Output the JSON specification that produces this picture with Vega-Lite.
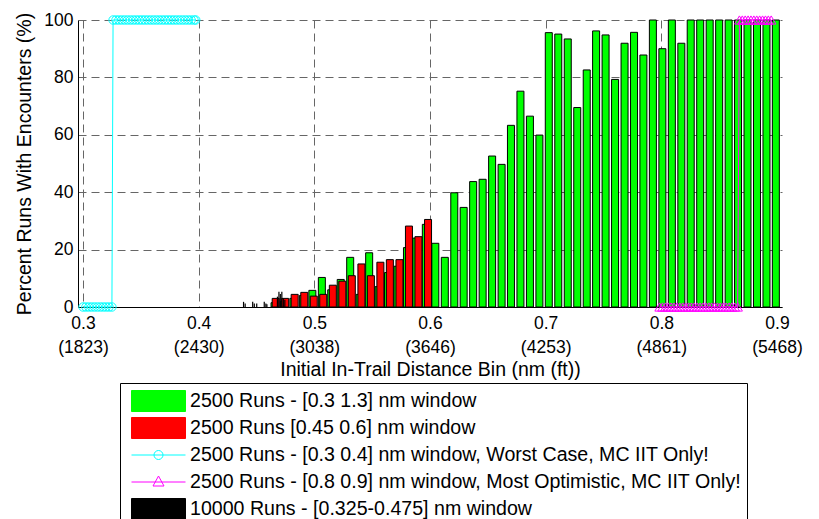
{
  "$schema": "https://vega.github.io/schema/vega-lite/v6.json",
  "width": 704,
  "height": 287,
  "autosize": {"type": "none"},
  "padding": {"left": 78, "top": 20, "right": 37, "bottom": 212},
  "background": "white",
  "config": {
    "font": "Liberation Sans",
    "view": {"stroke": null},
    "axis": {
      "labelFont": "Liberation Sans",
      "titleFont": "Liberation Sans",
      "labelColor": "black",
      "titleColor": "black",
      "labelFontSize": 17.5,
      "titleFontSize": 19.5,
      "titleFontWeight": "normal",
      "domainColor": "black",
      "domainWidth": 1,
      "ticks": false,
      "grid": true,
      "gridColor": "#666666",
      "gridDash": [8, 5],
      "gridWidth": 1,
      "gridOpacity": 1
    }
  },
  "datasets": {
    "green": [
      {"nm": 0.4656, "pct": 1.5}, {"nm": 0.4737, "pct": 2.0}, {"nm": 0.4819, "pct": 3.0},
      {"nm": 0.4901, "pct": 4.0}, {"nm": 0.4983, "pct": 5.8}, {"nm": 0.5065, "pct": 10.3},
      {"nm": 0.5146, "pct": 6.0}, {"nm": 0.5228, "pct": 9.6}, {"nm": 0.5310, "pct": 17.3},
      {"nm": 0.5392, "pct": 4.4}, {"nm": 0.5474, "pct": 18.9}, {"nm": 0.5556, "pct": 7.1},
      {"nm": 0.5637, "pct": 12.0}, {"nm": 0.5719, "pct": 14.2}, {"nm": 0.5801, "pct": 20.7},
      {"nm": 0.5882, "pct": 24.0}, {"nm": 0.5964, "pct": 28.8}, {"nm": 0.6046, "pct": 22.2},
      {"nm": 0.6128, "pct": 17.3}, {"nm": 0.6210, "pct": 39.8}, {"nm": 0.6291, "pct": 34.7},
      {"nm": 0.6373, "pct": 43.7}, {"nm": 0.6455, "pct": 44.5}, {"nm": 0.6537, "pct": 52.6},
      {"nm": 0.6619, "pct": 49.7}, {"nm": 0.6700, "pct": 63.3}, {"nm": 0.6782, "pct": 75.2},
      {"nm": 0.6864, "pct": 66.5}, {"nm": 0.6946, "pct": 59.9}, {"nm": 0.7027, "pct": 95.6},
      {"nm": 0.7109, "pct": 95.1}, {"nm": 0.7191, "pct": 93.4}, {"nm": 0.7273, "pct": 69.5},
      {"nm": 0.7355, "pct": 82.6}, {"nm": 0.7436, "pct": 96.2}, {"nm": 0.7518, "pct": 94.8},
      {"nm": 0.7600, "pct": 79.3}, {"nm": 0.7682, "pct": 91.9}, {"nm": 0.7764, "pct": 95.7},
      {"nm": 0.7845, "pct": 87.8}, {"nm": 0.7927, "pct": 100}, {"nm": 0.8009, "pct": 90.0},
      {"nm": 0.8091, "pct": 100}, {"nm": 0.8173, "pct": 91.9}, {"nm": 0.8254, "pct": 100},
      {"nm": 0.8336, "pct": 100}, {"nm": 0.8418, "pct": 100}, {"nm": 0.8500, "pct": 100},
      {"nm": 0.8582, "pct": 100}, {"nm": 0.8663, "pct": 100}, {"nm": 0.8745, "pct": 100},
      {"nm": 0.8827, "pct": 100}, {"nm": 0.8909, "pct": 100}, {"nm": 0.8990, "pct": 100}
    ],
    "red": [
      {"nm": 0.4666, "pct": 3.0}, {"nm": 0.4748, "pct": 3.0}, {"nm": 0.4830, "pct": 4.4},
      {"nm": 0.4913, "pct": 5.1}, {"nm": 0.4995, "pct": 3.8}, {"nm": 0.5077, "pct": 4.4},
      {"nm": 0.5160, "pct": 7.6}, {"nm": 0.5242, "pct": 9.0}, {"nm": 0.5324, "pct": 10.9},
      {"nm": 0.5407, "pct": 15.0}, {"nm": 0.5489, "pct": 10.9}, {"nm": 0.5571, "pct": 15.6},
      {"nm": 0.5653, "pct": 16.5}, {"nm": 0.5736, "pct": 16.5}, {"nm": 0.5818, "pct": 28.2},
      {"nm": 0.5900, "pct": 24.5}, {"nm": 0.5983, "pct": 30.5}
    ],
    "worst": [
      {"nm": 0.3000, "pct": 0}, {"nm": 0.3025, "pct": 0}, {"nm": 0.3050, "pct": 0},
      {"nm": 0.3075, "pct": 0}, {"nm": 0.3100, "pct": 0}, {"nm": 0.3125, "pct": 0},
      {"nm": 0.3150, "pct": 0}, {"nm": 0.3175, "pct": 0}, {"nm": 0.3200, "pct": 0},
      {"nm": 0.3225, "pct": 0}, {"nm": 0.3250, "pct": 0},
      {"nm": 0.3260, "pct": 100}, {"nm": 0.3285, "pct": 100}, {"nm": 0.3310, "pct": 100},
      {"nm": 0.3335, "pct": 100}, {"nm": 0.3360, "pct": 100}, {"nm": 0.3385, "pct": 100},
      {"nm": 0.3410, "pct": 100}, {"nm": 0.3435, "pct": 100}, {"nm": 0.3460, "pct": 100},
      {"nm": 0.3485, "pct": 100}, {"nm": 0.3510, "pct": 100}, {"nm": 0.3535, "pct": 100},
      {"nm": 0.3560, "pct": 100}, {"nm": 0.3585, "pct": 100}, {"nm": 0.3610, "pct": 100},
      {"nm": 0.3635, "pct": 100}, {"nm": 0.3660, "pct": 100}, {"nm": 0.3685, "pct": 100},
      {"nm": 0.3710, "pct": 100}, {"nm": 0.3735, "pct": 100}, {"nm": 0.3760, "pct": 100},
      {"nm": 0.3785, "pct": 100}, {"nm": 0.3810, "pct": 100}, {"nm": 0.3835, "pct": 100},
      {"nm": 0.3860, "pct": 100}, {"nm": 0.3885, "pct": 100}, {"nm": 0.3910, "pct": 100},
      {"nm": 0.3935, "pct": 100}, {"nm": 0.3960, "pct": 100}, {"nm": 0.3975, "pct": 100}
    ],
    "optimistic": [
      {"nm": 0.7985, "pct": 0}, {"nm": 0.8010, "pct": 0}, {"nm": 0.8035, "pct": 0},
      {"nm": 0.8060, "pct": 0}, {"nm": 0.8085, "pct": 0}, {"nm": 0.8110, "pct": 0},
      {"nm": 0.8135, "pct": 0}, {"nm": 0.8160, "pct": 0}, {"nm": 0.8185, "pct": 0},
      {"nm": 0.8210, "pct": 0}, {"nm": 0.8235, "pct": 0}, {"nm": 0.8260, "pct": 0},
      {"nm": 0.8285, "pct": 0}, {"nm": 0.8310, "pct": 0}, {"nm": 0.8335, "pct": 0},
      {"nm": 0.8360, "pct": 0}, {"nm": 0.8385, "pct": 0}, {"nm": 0.8410, "pct": 0},
      {"nm": 0.8435, "pct": 0}, {"nm": 0.8460, "pct": 0}, {"nm": 0.8485, "pct": 0},
      {"nm": 0.8510, "pct": 0}, {"nm": 0.8535, "pct": 0}, {"nm": 0.8560, "pct": 0},
      {"nm": 0.8585, "pct": 0}, {"nm": 0.8610, "pct": 0}, {"nm": 0.8635, "pct": 0},
      {"nm": 0.8660, "pct": 0},
      {"nm": 0.8675, "pct": 100}, {"nm": 0.8700, "pct": 100}, {"nm": 0.8725, "pct": 100},
      {"nm": 0.8750, "pct": 100}, {"nm": 0.8775, "pct": 100}, {"nm": 0.8800, "pct": 100},
      {"nm": 0.8825, "pct": 100}, {"nm": 0.8850, "pct": 100}, {"nm": 0.8875, "pct": 100},
      {"nm": 0.8900, "pct": 100}, {"nm": 0.8925, "pct": 100}, {"nm": 0.8950, "pct": 100}
    ],
    "fine": [
      {"nm": 0.4388, "pct": 1.8}, {"nm": 0.4402, "pct": 1.2}, {"nm": 0.4467, "pct": 1.8},
      {"nm": 0.4481, "pct": 1.2}, {"nm": 0.4502, "pct": 1.2}, {"nm": 0.4567, "pct": 1.8},
      {"nm": 0.4581, "pct": 1.2}, {"nm": 0.4590, "pct": 1.0}, {"nm": 0.4681, "pct": 3.6},
      {"nm": 0.4694, "pct": 5.3}, {"nm": 0.4706, "pct": 4.5}, {"nm": 0.4719, "pct": 5.3},
      {"nm": 0.4732, "pct": 3.0}, {"nm": 0.4745, "pct": 2.5}
    ]
  },
  "encoding": {
    "x": {
      "field": "nm",
      "type": "quantitative",
      "scale": {"domain": [0.3, 0.9], "nice": false, "zero": false},
      "axis": {
        "values": [0.3, 0.4, 0.5, 0.6, 0.7, 0.8, 0.9],
        "labelExpr": "[format(datum.value, '.1f'), '(' + format(datum.value * 6076, '.0f') + ')']",
        "labelLineHeight": 24,
        "labelPadding": 7,
        "labelOverlap": false,
        "labelFlush": false,
        "title": "Initial In-Trail Distance Bin (nm (ft))",
        "titlePadding": 5
      }
    },
    "y": {
      "field": "pct",
      "type": "quantitative",
      "scale": {"domain": [0, 100], "nice": false},
      "axis": {
        "values": [0, 20, 40, 60, 80, 100],
        "labelPadding": 5,
        "title": "Percent Runs With Encounters (%)",
        "titlePadding": 9
      }
    }
  },
  "layer": [
    {
      "data": {"name": "green"},
      "mark": {"type": "bar", "orient": "vertical", "size": 7, "stroke": "black", "strokeWidth": 1},
      "encoding": {
        "color": {
          "datum": "2500 Runs - [0.3 1.3] nm window",
          "type": "nominal",
          "scale": {
            "domain": [
              "2500 Runs - [0.3 1.3] nm window",
              "2500 Runs [0.45 0.6] nm window",
              "2500 Runs - [0.3 0.4] nm window, Worst Case, MC IIT Only!",
              "2500 Runs - [0.8 0.9] nm window, Most Optimistic, MC IIT Only!",
              "10000 Runs - [0.325-0.475] nm window"
            ],
            "range": ["#00ff00", "#ff0000", "#00ffff", "#ff00ff", "#000000"]
          },
          "legend": {
            "title": null,
            "orient": "none",
            "legendX": 42,
            "legendY": 363,
            "direction": "vertical",
            "fillColor": "white",
            "strokeColor": "black",
            "padding": 6,
            "symbolSize": 400,
            "symbolOffset": 22,
            "labelOffset": 21,
            "labelFont": "Liberation Sans",
            "labelFontSize": 19.6,
            "labelColor": "black",
            "labelLimit": 0,
            "clipHeight": 24,
            "rowPadding": 3,
            "encoding": {
              "symbols": {
                "shape": {
                  "condition": [
                    {"test": "indexof(datum.value, 'Worst Case') >= 0", "value": "M-2.7,0H2.7M0.45,0A0.45,0.45 0 1 1 -0.45,0A0.45,0.45 0 1 1 0.45,0Z"},
                    {"test": "indexof(datum.value, 'Most Optimistic') >= 0", "value": "M-2.7,0H2.7M0,-0.6L0.55,0.4L-0.55,0.4Z"}
                  ],
                  "value": "M-2.7,-1.05H2.7V1.05H-2.7Z"
                },
                "fillOpacity": {
                  "condition": {"test": "indexof(datum.value, 'MC IIT Only') >= 0", "value": 0},
                  "value": 1
                },
                "stroke": {
                  "condition": [
                    {"test": "indexof(datum.value, 'Worst Case') >= 0", "value": "#00ffff"},
                    {"test": "indexof(datum.value, 'Most Optimistic') >= 0", "value": "#ff00ff"}
                  ],
                  "value": "#000000"
                },
                "strokeWidth": {"value": 1},
                "opacity": {"value": 1}
              }
            }
          }
        }
      }
    },
    {
      "data": {"name": "red"},
      "mark": {"type": "bar", "orient": "vertical", "size": 7, "stroke": "black", "strokeWidth": 1},
      "encoding": {"color": {"datum": "2500 Runs [0.45 0.6] nm window", "type": "nominal", "legend": null}}
    },
    {
      "data": {"name": "worst"},
      "mark": {"type": "line", "strokeWidth": 1, "point": {"filled": false, "shape": "circle", "size": 70, "strokeWidth": 1, "opacity": 1}},
      "encoding": {"color": {"datum": "2500 Runs - [0.3 0.4] nm window, Worst Case, MC IIT Only!", "type": "nominal", "legend": null}}
    },
    {
      "data": {"name": "optimistic"},
      "mark": {"type": "line", "strokeWidth": 1, "point": {"filled": false, "shape": "triangle-up", "size": 90, "strokeWidth": 1, "opacity": 1}},
      "encoding": {"color": {"datum": "2500 Runs - [0.8 0.9] nm window, Most Optimistic, MC IIT Only!", "type": "nominal", "legend": null}}
    },
    {
      "data": {"name": "fine"},
      "mark": {"type": "bar", "orient": "vertical", "size": 1.2},
      "encoding": {"color": {"datum": "10000 Runs - [0.325-0.475] nm window", "type": "nominal", "legend": null}}
    }
  ]
}
